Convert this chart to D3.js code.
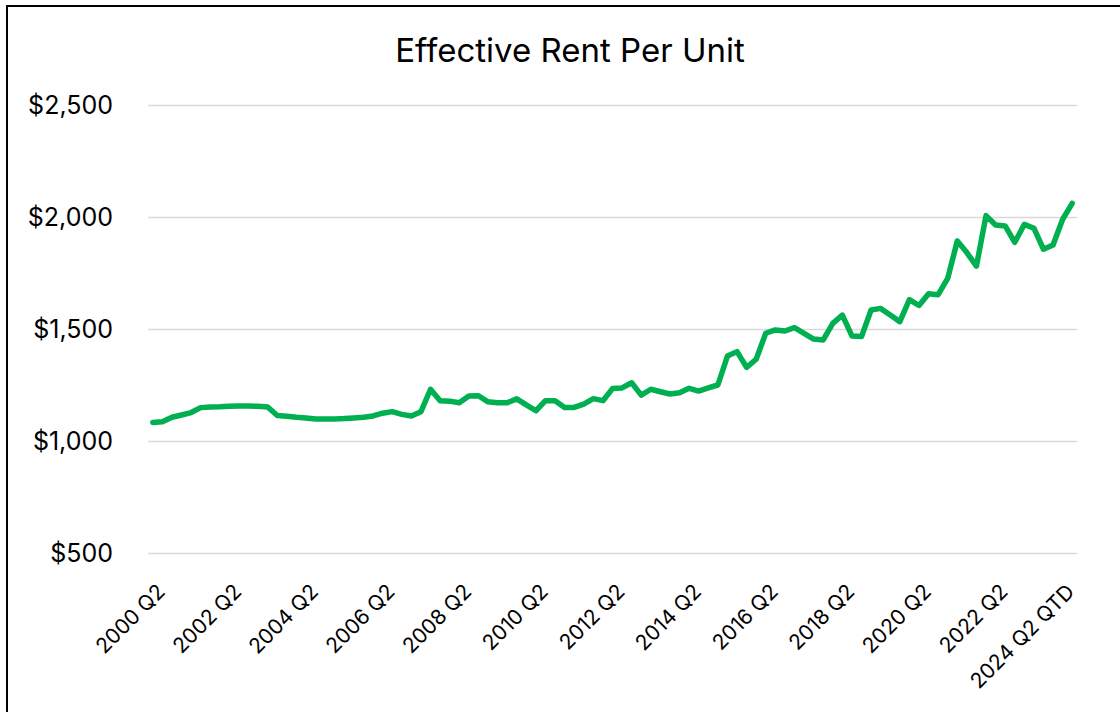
<!DOCTYPE html>
<html>
<head>
<meta charset="utf-8">
<script src="https://cdn.jsdelivr.net/npm/d3@7"></script>
<style>
  body { margin: 0; background: #fff; }
  text { font-family: Inter, "Open Sans", sans-serif; fill: #000; }
</style>
</head>
<body>
<div id="rentChart"></div>
<script>
// quarters 2000 Q2 .. 2024 Q2 QTD
let quarters = [];
for (let yr = 2000; yr <= 2024; yr++) {
    for (let q = 1; q <= 4; q++) {
        if (yr == 2000 && q < 2) continue;
        if (yr == 2024 && q > 2) continue;
        quarters.push(yr + " Q" + q + (yr == 2024 && q == 2 ? " QTD" : ""));
    }
}

let rent = [
    1083, 1086, 1106, 1116, 1127, 1149, 1152, 1153, 1155, 1156, 1156, 1155, 1152,
    1114, 1110, 1106, 1103, 1098, 1098, 1098, 1100, 1103, 1106, 1112, 1124, 1131,
    1119, 1112, 1131, 1231, 1180, 1178, 1171, 1201, 1202, 1175, 1171, 1171, 1188,
    1161, 1135, 1180, 1180, 1150, 1150, 1165, 1189, 1180, 1234, 1237, 1260, 1205,
    1231, 1220, 1210, 1215, 1235, 1223, 1237, 1250, 1379, 1399, 1329, 1365, 1481,
    1496, 1491, 1506, 1481, 1455, 1451, 1525, 1562, 1469, 1466, 1585, 1592, 1562,
    1533, 1631, 1605, 1657, 1653, 1726, 1893, 1841, 1781, 2006, 1964, 1960, 1887,
    1967, 1950, 1856, 1875, 1990, 2061
];

let tickLabels = ["2000 Q2", "2002 Q2", "2004 Q2", "2006 Q2", "2008 Q2", "2010 Q2",
    "2012 Q2", "2014 Q2", "2016 Q2", "2018 Q2", "2020 Q2", "2022 Q2", "2024 Q2 QTD"];
let yTicks = [500, 1000, 1500, 2000, 2500];

let W = 1120, H = 712;
let plot = {left: 148, right: 1077, top: 105, bottom: 553};

let svg = d3.select("#rentChart")
    .append("svg")
        .attr("width", W)
        .attr("height", H);

svg.append("rect").attr("width", W).attr("height", H).attr("fill", "#fff");

// frame
svg.append("rect")
    .attr("x", 7).attr("y", 6)
    .attr("width", W).attr("height", H)
    .attr("fill", "none")
    .attr("stroke", "#000")
    .attr("stroke-width", 2);

// title
svg.append("text")
    .attr("x", 570).attr("y", 62)
    .attr("text-anchor", "middle")
    .style("font-size", "33px")
    .text("Effective Rent Per Unit");

let x = d3.scalePoint()
    .domain(quarters)
    .range([plot.left, plot.right])
    .padding(0.5);

let y = d3.scaleLinear()
    .domain([500, 2500])
    .range([plot.bottom, plot.top]);

// gridlines + y labels
let yAxis = svg.append("g")
    .attr("transform", "translate(" + plot.left + ",0)")
    .call(d3.axisLeft(y)
        .tickValues(yTicks)
        .tickSize(-(plot.right - plot.left))
        .tickPadding(35)
        .tickFormat(d => "$" + d3.format(",")(d)));
yAxis.select(".domain").remove();
yAxis.selectAll(".tick line").attr("stroke", "#d9d9d9").attr("stroke-width", 1.5);
yAxis.selectAll(".tick text").style("font-size", "25px").attr("fill", "#000");

// x labels
let xAxis = svg.append("g")
    .attr("transform", "translate(0," + plot.bottom + ")")
    .call(d3.axisBottom(x).tickValues(tickLabels).tickSize(0));
xAxis.select(".domain").remove();
xAxis.selectAll(".tick text")
    .attr("y", 0).attr("dy", 0)
    .attr("text-anchor", "end")
    .attr("transform", d => d == "2024 Q2 QTD" ? "translate(3,40)rotate(-45)" : "translate(13,40)rotate(-45)")
    .style("font-size", "21px")
    .attr("fill", "#000");

// line
let line = d3.line()
    .x((d, i) => x(quarters[i]))
    .y(d => y(d));

svg.append("path")
    .datum(rent)
    .attr("d", line)
    .attr("fill", "none")
    .attr("stroke", "#00b050")
    .attr("stroke-width", 5.5)
    .attr("stroke-linejoin", "round")
    .attr("stroke-linecap", "round");
</script>
</body>
</html>
